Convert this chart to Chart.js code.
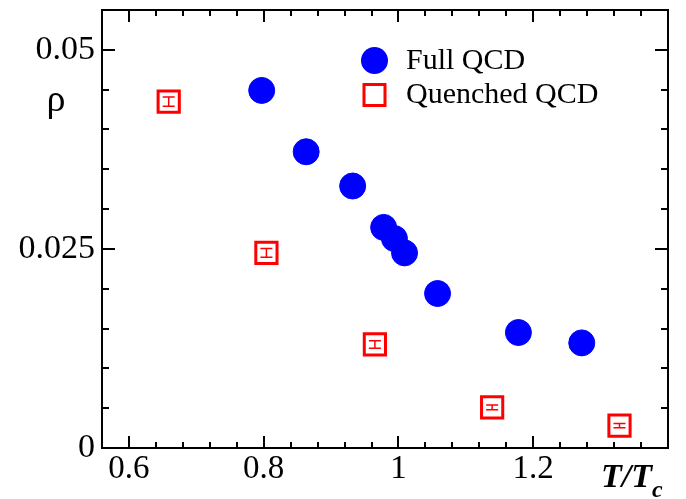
<!DOCTYPE html>
<html>
<head>
<meta charset="utf-8">
<script src="https://cdn.jsdelivr.net/npm/chart.js@4/dist/chart.umd.min.js"></script>
<style>
	html, body { margin: 0; padding: 0; background: #fff; }
	#wrap { width: 686px; height: 499px; }
</style>
</head>
<body>
<div id="wrap"><canvas id="c" width="686" height="499"></canvas></div>
<script>

// values
var fullT   = [0.797, 0.863, 0.932, 0.978, 0.994, 1.009, 1.058, 1.178, 1.272];
var fullRho = [0.0449, 0.0372, 0.0329, 0.0277, 0.0263, 0.0245, 0.0194, 0.0145, 0.0132];

var quenchedT   = [0.659, 0.804, 0.965, 1.139, 1.328];
var quenchedRho = [0.0435, 0.0245, 0.0130, 0.0051, 0.0028];
var quenchedErr = [0.00058, 0.00055, 0.00048, 0.0003, 0.00027];

var xMajor = [0.6, 0.8, 1, 1.2];
var yMajor = [0, 0.025, 0.05];

var seriesNames = ['Full QCD', 'Quenched QCD'];

var serif = '"Liberation Serif", "DejaVu Serif", serif';

function toPoints(xs, ys){
	var out = [];
	for (var i = 0; i < xs.length; i++){
		out.push({x: xs[i], y: ys[i]});
	}
	return out;
}

function isIn(v, list){
	for (var i = 0; i < list.length; i++){
		if (Math.abs(v - list[i]) < 1e-6) return true;
	}
	return false;
}

// frame, inward ticks, error bars, legend, axis texts
var decorations = {
	id: 'decorations',
	afterDatasetsDraw: function(chart){
		var ctx = chart.ctx;
		var xs = chart.scales.x, ys = chart.scales.y;

		// error bars on quenched points
		ctx.save();
		ctx.strokeStyle = '#ff0000';
		ctx.lineWidth = 1.5;
		for (var i = 0; i < quenchedT.length; i++){
			var px = xs.getPixelForValue(quenchedT[i]);
			var top = ys.getPixelForValue(quenchedRho[i] + quenchedErr[i]);
			var bot = ys.getPixelForValue(quenchedRho[i] - quenchedErr[i]);
			ctx.beginPath();
			ctx.moveTo(px, top); ctx.lineTo(px, bot);
			ctx.moveTo(px - 6, top); ctx.lineTo(px + 6, top);
			ctx.moveTo(px - 6, bot); ctx.lineTo(px + 6, bot);
			ctx.stroke();
		}
		ctx.restore();
	},
	afterDraw: function(chart){
		var ctx = chart.ctx;
		var a = chart.chartArea;
		var xs = chart.scales.x, ys = chart.scales.y;

		ctx.save();
		ctx.strokeStyle = '#000';
		ctx.lineWidth = 2;
		ctx.strokeRect(a.left, a.top, a.right - a.left, a.bottom - a.top);

		ctx.beginPath();
		xs.ticks.forEach(function(t){
			var px = Math.round(xs.getPixelForValue(t.value));
			var len = isIn(t.value, xMajor) ? 12 : 6;
			ctx.moveTo(px, a.bottom); ctx.lineTo(px, a.bottom - len);
			ctx.moveTo(px, a.top); ctx.lineTo(px, a.top + len);
		});
		ys.ticks.forEach(function(t){
			var py = Math.round(ys.getPixelForValue(t.value));
			var len = isIn(t.value, yMajor) ? 13 : 7;
			ctx.moveTo(a.left, py); ctx.lineTo(a.left + len, py);
			ctx.moveTo(a.right, py); ctx.lineTo(a.right - len, py);
		});
		ctx.stroke();

		// legend
		ctx.fillStyle = '#0000ff';
		ctx.beginPath();
		ctx.arc(374.5, 60.5, 13.5, 0, Math.PI * 2);
		ctx.fill();
		ctx.strokeStyle = '#ff0000';
		ctx.lineWidth = 3;
		ctx.strokeRect(364, 84.5, 21, 21);

		ctx.fillStyle = '#000';
		ctx.textAlign = 'left';
		ctx.textBaseline = 'alphabetic';
		ctx.font = '30px ' + serif;
		ctx.fillText(seriesNames[0], 406, 68.5);
		ctx.fillText(seriesNames[1], 406, 103);

		// axis texts
		ctx.font = '38px ' + serif;
		ctx.textAlign = 'center';
		ctx.fillText('\u03c1', 56, 111);

		ctx.textAlign = 'left';
		ctx.font = 'italic bold 34px ' + serif;
		ctx.fillText('T/T', 601, 487);
		var w = ctx.measureText('T/T').width;
		ctx.font = 'italic bold 24px ' + serif;
		ctx.fillText('c', 601 + w, 497);
		ctx.restore();
	}
};

window.chart = new Chart(document.getElementById('c'), {
	type: 'scatter',
	data: {
		datasets: [
			{
				label: seriesNames[0],
				data: toPoints(fullT, fullRho),
				pointStyle: 'circle',
				pointRadius: 13,
				pointHoverRadius: 13,
				backgroundColor: '#0000ff',
				borderColor: '#0000ff',
				borderWidth: 1
			},
			{
				label: seriesNames[1],
				data: toPoints(quenchedT, quenchedRho),
				pointStyle: 'rect',
				pointRadius: 15,
				pointHoverRadius: 15,
				backgroundColor: 'rgba(0,0,0,0)',
				borderColor: '#ff0000',
				borderWidth: 3
			}
		]
	},
	options: {
		responsive: false,
		animation: false,
		events: [],
		layout: {
			autoPadding: false,
			padding: { left: 0, right: 18, top: 10, bottom: 0 }
		},
		plugins: {
			legend: { display: false },
			tooltip: { enabled: false }
		},
		scales: {
			x: {
				type: 'linear',
				min: 0.56,
				max: 1.4,
				grid: { display: false, drawTicks: false },
				border: { display: false },
				afterFit: function(s){
					s.height = 51;
					s.paddingLeft = 0;
					s.paddingRight = 0;
				},
				ticks: {
					stepSize: 0.04,
					autoSkip: false,
					maxRotation: 0,
					padding: 2,
					color: '#000',
					font: { family: serif, size: 33 },
					callback: function(v){
						return isIn(v, xMajor) ? String(Math.round(v * 10) / 10) : '';
					}
				}
			},
			y: {
				type: 'linear',
				min: 0,
				max: 0.055,
				grid: { display: false, drawTicks: false },
				border: { display: false },
				afterFit: function(s){
					s.width = 102;
					s.paddingTop = 0;
					s.paddingBottom = 0;
				},
				ticks: {
					stepSize: 0.005,
					autoSkip: false,
					padding: 7,
					color: '#000',
					font: { family: serif, size: 34 },
					callback: function(v){
						return isIn(v, yMajor) ? String(Math.round(v * 1000) / 1000) : '';
					}
				}
			}
		}
	},
	plugins: [decorations]
});

</script>
</body>
</html>
